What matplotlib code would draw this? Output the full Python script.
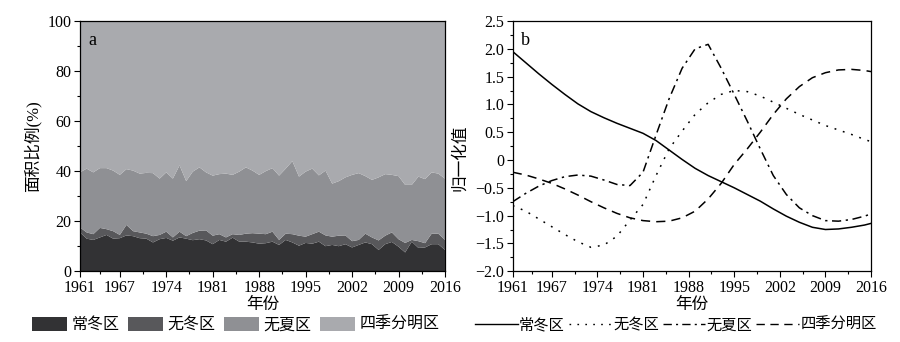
import numpy as np
import matplotlib
matplotlib.use('Agg')
from matplotlib import pyplot as plt
from matplotlib.patches import Patch
from matplotlib.lines import Line2D
from matplotlib.ticker import MultipleLocator, FixedLocator, FuncFormatter

FONT = ['Liberation Serif', 'Noto Sans CJK SC']
plt.rcParams['font.family'] = FONT
plt.rcParams['axes.unicode_minus'] = True

# (a) share of each climate-season zone, %, 1961-2016
years = np.arange(1961, 2017)
perennial_winter = [15.5, 13.0, 12.5, 13.5, 14.5, 13.0, 13.2, 14.3, 14.0, 13.2,
                    13.0, 11.5, 12.8, 13.3, 12.2, 13.5, 13.0, 12.4, 12.8, 12.3,
                    10.8, 12.5, 11.8, 13.4, 11.8, 11.8, 11.5, 11.0, 11.2, 11.8,
                    10.5, 12.5, 11.5, 10.2, 11.3, 11.0, 11.8, 10.0, 10.5, 10.0,
                    10.8, 9.5, 10.5, 11.5, 10.8, 8.5, 10.8, 11.7, 9.8, 7.5,
                    11.8, 9.3, 9.5, 10.8, 10.8, 8.5]
no_winter = [2.0, 2.5, 2.3, 3.8, 2.3, 3.0, 1.3, 4.2, 2.0, 2.3,
             2.0, 2.5, 1.7, 2.5, 1.3, 2.3, 1.0, 2.9, 3.4, 4.0,
             3.4, 2.3, 1.7, 1.4, 2.7, 3.2, 3.7, 4.0, 3.6, 4.0,
             2.0, 2.5, 3.3, 4.0, 2.5, 3.8, 4.0, 4.3, 3.3, 4.2,
             3.5, 2.5, 2.0, 3.5, 2.7, 3.8, 3.4, 3.8, 3.0, 3.8,
             0.7, 2.7, 1.7, 4.2, 4.2, 4.0]
no_summer = [22.0, 25.5, 24.7, 23.9, 24.4, 24.2, 24.0, 22.3, 24.2, 23.5,
             24.3, 25.2, 22.5, 23.7, 23.5, 26.5, 22.0, 24.5, 25.3, 23.2,
             24.0, 24.0, 25.5, 23.7, 25.3, 26.5, 25.0, 23.5, 25.2, 25.4,
             25.7, 26.0, 29.2, 23.6, 26.0, 26.2, 22.5, 25.9, 21.2, 21.8,
             23.2, 26.5, 26.7, 23.0, 23.0, 25.2, 24.6, 23.0, 25.2, 23.2,
             22.0, 25.8, 25.6, 24.5, 24.0, 24.5]
four_seasons = [60.5, 59.0, 60.5, 58.8, 58.8, 59.8, 61.5, 59.2, 59.8, 61.0,
                60.7, 60.8, 63.0, 60.5, 63.0, 57.7, 64.0, 60.2, 58.5, 60.5,
                61.8, 61.2, 61.0, 61.5, 60.2, 58.5, 59.8, 61.5, 60.0, 58.8,
                61.8, 59.0, 56.0, 62.2, 60.2, 59.0, 61.7, 59.8, 65.0, 64.0,
                62.5, 61.5, 60.8, 62.0, 63.5, 62.5, 61.2, 61.5, 62.0, 65.5,
                65.5, 62.2, 63.2, 60.5, 61.0, 63.0]

# (b) normalised trend curves
years_b = [1961, 1963, 1965, 1967, 1969, 1971, 1973, 1975, 1977, 1979,
           1981, 1983, 1985, 1987, 1989, 1991, 1993, 1995, 1997, 1999,
           2001, 2003, 2005, 2007, 2009, 2011, 2013, 2015, 2016]
norm_perennial_winter = [1.95, 1.75, 1.55, 1.36, 1.18, 1.01, 0.87, 0.76, 0.66, 0.57,
                         0.48, 0.35, 0.18, 0.01, -0.15, -0.28, -0.39, -0.50, -0.62, -0.74,
                         -0.88, -1.01, -1.12, -1.21, -1.25, -1.24, -1.21, -1.17, -1.14]
norm_no_winter = [-0.82, -0.92, -1.06, -1.20, -1.34, -1.47, -1.57, -1.53, -1.37, -1.08,
                  -0.80, -0.28, 0.20, 0.52, 0.82, 1.03, 1.18, 1.25, 1.23, 1.15,
                  1.04, 0.93, 0.82, 0.72, 0.62, 0.54, 0.46, 0.37, 0.33]
norm_no_summer = [-0.75, -0.60, -0.47, -0.37, -0.30, -0.27, -0.29, -0.36, -0.44, -0.46,
                  -0.22, 0.45, 1.10, 1.65, 2.00, 2.08, 1.65, 1.18, 0.70, 0.20,
                  -0.28, -0.62, -0.86, -1.00, -1.09, -1.10, -1.07, -1.01, -0.97]
norm_four_seasons = [-0.22, -0.27, -0.34, -0.42, -0.52, -0.63, -0.75, -0.86, -0.96, -1.04,
                     -1.09, -1.11, -1.10, -1.04, -0.92, -0.70, -0.42, -0.08, 0.20, 0.50,
                     0.82, 1.10, 1.32, 1.48, 1.57, 1.62, 1.63, 1.61, 1.59]

zone_names = ['常冬区', '无冬区', '无夏区', '四季分明区']
area_colors = ['#323234', '#58585b', '#8f9094', '#a9aaae']
line_styles = ['-', (0, (1.2, 4.5)), (0, (6, 3, 1.5, 3)), (0, (6, 4))]
year_ticks = [1961, 1967, 1974, 1981, 1988, 1995, 2002, 2009, 2016]
year_minor = [(a + b) / 2 for a, b in zip(year_ticks[:-1], year_ticks[1:])]

TICK_SIZE = 11.5
LABEL_SIZE = 12

fig = plt.figure(figsize=(9, 3.42), dpi=100)
ax_a = fig.add_axes((0.0889, 0.207, 0.4055, 0.7316))
ax_b = fig.add_axes((0.5697, 0.207, 0.3981, 0.7316))


def style_axes(ax):
    ax.set_xlim(1961, 2016)
    ax.xaxis.set_major_locator(FixedLocator(year_ticks))
    ax.xaxis.set_minor_locator(FixedLocator(year_minor))
    ax.tick_params(which='both', direction='out', top=False, right=False,
                   labelsize=TICK_SIZE, width=0.8, pad=2)
    ax.tick_params(which='major', length=4)
    ax.tick_params(which='minor', length=2.5)
    for spine in ax.spines.values():
        spine.set_linewidth(0.9)
    ax.set_xlabel('年份', fontsize=LABEL_SIZE, family=FONT, labelpad=1)


# stacked area shares
ax_a.stackplot(years, perennial_winter, no_winter, no_summer, four_seasons,
               colors=area_colors, linewidth=0)
ax_a.set_ylim(0, 100)
ax_a.yaxis.set_major_locator(MultipleLocator(20))
ax_a.yaxis.set_minor_locator(MultipleLocator(10))
style_axes(ax_a)
ax_a.set_ylabel('面积比例(%)', fontsize=LABEL_SIZE, family=FONT)
ax_a.yaxis.set_label_coords(-0.106, 0.5)
ax_a.text(0.022, 0.955, 'a', transform=ax_a.transAxes, fontsize=13, va='top', ha='left')

# normalised curves
series_b = [norm_perennial_winter, norm_no_winter, norm_no_summer, norm_four_seasons]
for vals, ls in zip(series_b, line_styles):
    ax_b.plot(years_b, vals, color='black', linestyle=ls, linewidth=1.1)
ax_b.set_ylim(-2.0, 2.5)
ax_b.yaxis.set_major_locator(MultipleLocator(0.5))
ax_b.yaxis.set_minor_locator(MultipleLocator(0.25))
ax_b.yaxis.set_major_formatter(FuncFormatter(
    lambda v, pos: '0' if abs(v) < 1e-9 else f'{v:.1f}'.replace('-', '\u2212')))
style_axes(ax_b)
ax_b.set_ylabel('归一化值', fontsize=LABEL_SIZE, family=FONT)
ax_b.yaxis.set_label_coords(-0.125, 0.455)
ax_b.text(0.022, 0.955, 'b', transform=ax_b.transAxes, fontsize=13, va='top', ha='left')

# legends under the panels
patch_handles = [Patch(facecolor=c, edgecolor='none') for c in area_colors]
fig.legend(patch_handles, zone_names, loc='center', bbox_to_anchor=(0.262, 0.05),
           ncol=4, frameon=False, handlelength=2.2, handleheight=1.0,
           handletextpad=0.25, columnspacing=0.55,
           prop={'family': FONT, 'size': 11.5})

line_handles = [Line2D([], [], color='black', linestyle=ls, linewidth=1.0) for ls in line_styles]
fig.legend(line_handles, zone_names, loc='center', bbox_to_anchor=(0.751, 0.05),
           ncol=4, frameon=False, handlelength=2.8, handletextpad=0.1,
           columnspacing=0.25, prop={'family': FONT, 'size': 11})

fig.savefig('out.png', dpi=100)
